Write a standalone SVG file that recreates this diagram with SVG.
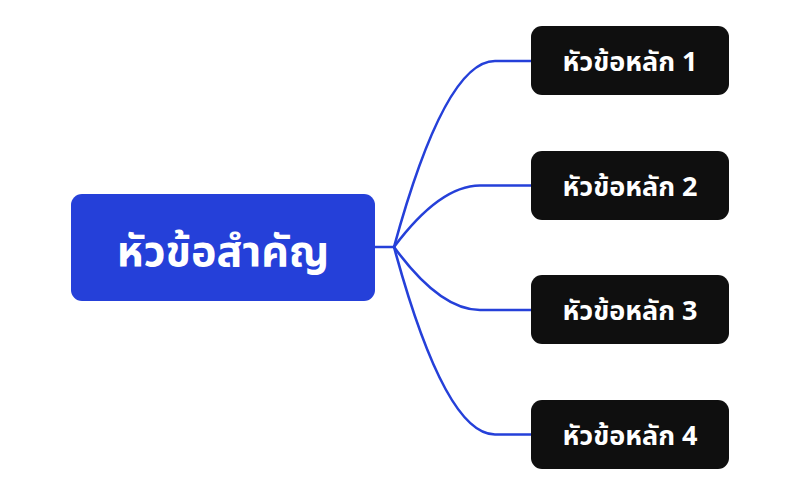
<svg xmlns="http://www.w3.org/2000/svg" width="800" height="495" viewBox="0 0 800 495">
<style>
.conn{fill:none;stroke:#2540d9;stroke-width:2.6;stroke-linecap:round}
.main{fill:#2540d9}
.sub{fill:#0f0f0f}
.t{font-family:"Noto Sans Thai","Noto Sans","Noto Sans CJK SC","DejaVu Sans",sans-serif;font-weight:bold;fill:#ffffff;text-anchor:middle}
.tm{font-size:43px}
.ts{font-size:27px}
</style>
<rect width="800" height="495" fill="#ffffff"/>
<g id="connectors">
<path class="conn" d="M375,247 L394,247"/>
<path class="conn" d="M394,247 Q445,61 495,61 L531,61"/>
<path class="conn" d="M394,247 Q440,185.5 480,185.5 L531,185.5"/>
<path class="conn" d="M394,247 Q440,310 480,310 L531,310"/>
<path class="conn" d="M394,247 Q445,434.5 495,434.5 L531,434.5"/>
</g>
<g id="center">
<rect class="main" x="71" y="194" width="304" height="107" rx="11"/>
<text class="t tm" x="223" y="266">หัวข้อสำคัญ</text>
</g>
<g id="topic1">
<rect class="sub" x="531" y="26" width="198" height="69" rx="11"/>
<text class="t ts" x="630" y="71">หัวข้อหลัก 1</text>
</g>
<g id="topic2">
<rect class="sub" x="531" y="151" width="198" height="69" rx="11"/>
<text class="t ts" x="630" y="196">หัวข้อหลัก 2</text>
</g>
<g id="topic3">
<rect class="sub" x="531" y="275" width="198" height="69" rx="11"/>
<text class="t ts" x="630" y="320">หัวข้อหลัก 3</text>
</g>
<g id="topic4">
<rect class="sub" x="531" y="400" width="198" height="69" rx="11"/>
<text class="t ts" x="630" y="445">หัวข้อหลัก 4</text>
</g>
</svg>
